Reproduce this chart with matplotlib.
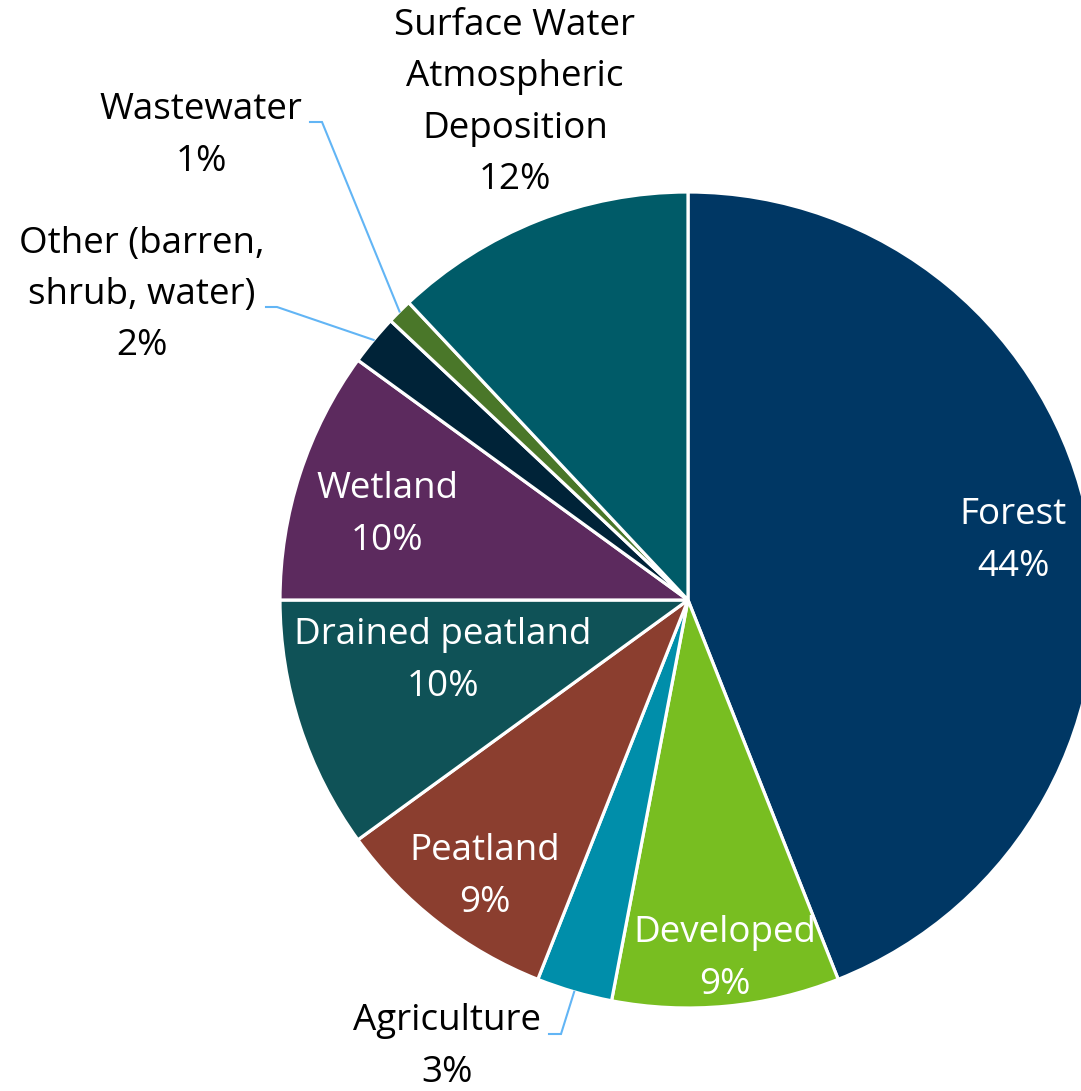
import numpy as np
import matplotlib.pyplot as plt

plt.rcParams['font.family'] = ['Open Sans', 'DejaVu Sans']

categorias = ['Forest', 'Developed', 'Agriculture', 'Peatland', 'Drained peatland',
              'Wetland', 'Other (barren,\nshrub, water)', 'Wastewater',
              'Surface Water\nAtmospheric\nDeposition']
valores = [44, 9, 3, 9, 10, 10, 2, 1, 12]
colores = ['#003764', '#78BE21', '#008EAA', '#8B3E2F', '#0F5257',
           '#5C2A5E', '#002338', '#4A7729', '#005B68']

# pixel scale of the figure: radius 1 == 408 px, centre at (688, 600)
W, H = 1081, 1091
cx, cy, R = 688, 600, 408

def px(x, y):
    return (x - cx) / R, (cy - y) / R

fig = plt.figure(figsize=(W / 100, H / 100), dpi=100)
ax = fig.add_axes([0, 0, 1, 1])

cuñas, _ = ax.pie(valores, colors=colores, startangle=90, counterclock=False,
                  radius=1, wedgeprops=dict(edgecolor='white', linewidth=2.3))

# pie() sets its own limits, so fix them afterwards
ax.set_xlim(-cx / R, (W - cx) / R)
ax.set_ylim(-(H - cy) / R, cy / R)
ax.set_aspect('equal')
ax.axis('off')

# label centres (pixels) and whether the label sits inside the slice
pos_etiquetas = [(1013, 541), (725, 959), (447, 1047), (485, 877), (443, 661),
                 (387, 515), (142, 295), (201, 136), (515, 103)]
dentro = [True, True, False, True, True, True, False, False, False]
codos = {2: [(561, 1034), (549, 1034)],
         6: [(277, 307), (266, 307)],
         7: [(322, 122), (310, 122)]}

total = sum(valores)
acum = 0
for i, v in enumerate(valores):
    medio = 90 - 360 * (acum + v / 2) / total
    acum += v
    x, y = px(*pos_etiquetas[i])
    ax.text(x, y, f'{categorias[i]}\n{v}%', ha='center', va='center',
            fontsize=26.5, linespacing=1.56,
            color='white' if dentro[i] else 'black')
    if i in codos:
        ang = np.deg2rad(medio)
        xs = [np.cos(ang)] + [px(*p)[0] for p in codos[i]]
        ys = [np.sin(ang)] + [px(*p)[1] for p in codos[i]]
        ax.plot(xs, ys, color='#62B5F5', lw=1.5, solid_joinstyle='miter')

fig.savefig('out.png', dpi=100)
